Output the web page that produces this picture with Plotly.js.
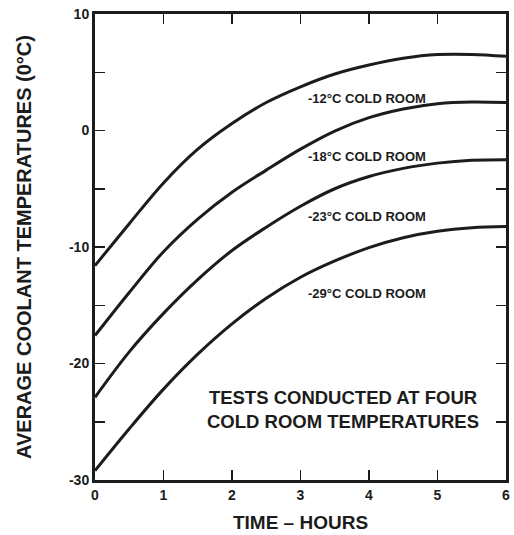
<!DOCTYPE html>
<html>
<head>
<meta charset="utf-8">
<script src="https://cdn.plot.ly/plotly-3.0.1.min.js"></script>
<style>
html,body{margin:0;padding:0;background:#fff;}
#chart{width:514px;height:535px;}
</style>
</head>
<body>
<div id="chart"></div>
<script>
const hours = [0, 0.5, 1, 1.5, 2, 2.5, 3, 3.5, 4, 4.5, 5, 5.5, 6];
const room12 = [-11.6, -8.0, -4.5, -1.6, 0.6, 2.4, 3.75, 4.85, 5.62, 6.2, 6.52, 6.53, 6.37];
const room18 = [-17.6, -13.9, -10.4, -7.6, -5.3, -3.4, -1.6, -0.05, 1.1, 1.85, 2.3, 2.45, 2.4];
const room23 = [-22.9, -19.0, -15.7, -12.8, -10.3, -8.3, -6.5, -5.0, -3.95, -3.25, -2.8, -2.55, -2.5];
const room29 = [-29.2, -25.6, -22.2, -19.2, -16.6, -14.4, -12.6, -11.2, -10.05, -9.2, -8.65, -8.35, -8.25];
const seriesNames = ["-12°C COLD ROOM", "-18°C COLD ROOM", "-23°C COLD ROOM", "-29°C COLD ROOM"];
const xTickVals = [0, 1, 2, 3, 4, 5, 6];
const xTickText = ["0", "1", "2", "3", "4", "5", "6"];
const yTickVals = [-30, -25, -20, -15, -10, -5, 0, 5, 10];
const yTickText = ["-30", "", "-20", "", "-10", "", "0", "", "10"];
const noteLines = ["TESTS CONDUCTED AT FOUR", "COLD ROOM TEMPERATURES"];

const allSeries = [room12, room18, room23, room29];
const ink = "#1c1c1c";
const fam = "Liberation Sans, Arial, sans-serif";

const traces = allSeries.map((ys, i) => ({
  x: hours, y: ys, type: "scatter", mode: "lines",
  name: seriesNames[i],
  line: {color: ink, width: 3, shape: "spline", smoothing: 1.0},
  hoverinfo: "skip"
}));

// label anchor positions (layout, left edge of text)
const labelX = [3.08, 3.08, 3.08, 3.08];
const labelY = [2.75, -2.25, -7.4, -14.0];

const annotations = seriesNames.map((t, i) => ({
  x: labelX[i], y: labelY[i], xref: "x", yref: "y",
  text: "<b>" + t + "</b>", showarrow: false, xanchor: "left", yanchor: "middle",
  font: {family: fam, size: 13, color: ink}
}));
annotations.push({
  x: 3.62, y: -23.95, xref: "x", yref: "y",
  text: "<b>" + noteLines.join("<br>") + "</b>", showarrow: false, xanchor: "center", yanchor: "middle",
  align: "center",
  font: {family: fam, size: 18.5, color: ink}
});

const layout = {
  width: 514, height: 535,
  margin: {l: 95, r: 8, t: 14, b: 55},
  paper_bgcolor: "#fff", plot_bgcolor: "#fff",
  showlegend: false,
  font: {family: fam, color: ink},
  xaxis: {
    range: [0, 6], tickvals: xTickVals, ticktext: xTickText,
    ticks: "inside", ticklen: 10, tickwidth: 1.5, tickcolor: ink,
    showline: true, linewidth: 3, linecolor: ink, mirror: "ticks",
    showgrid: false, zeroline: false, fixedrange: true,
    tickfont: {family: fam, size: 14, color: ink, weight: "bold"},
    title: {text: "<b>TIME – HOURS</b>", font: {family: fam, size: 19, color: ink}, standoff: 14}
  },
  yaxis: {
    range: [-30, 10], tickvals: yTickVals, ticktext: yTickText,
    ticks: "inside", ticklen: 10, tickwidth: 1.5, tickcolor: ink,
    showline: true, linewidth: 3, linecolor: ink, mirror: "ticks",
    showgrid: false, zeroline: false, fixedrange: true,
    tickfont: {family: fam, size: 14, color: ink, weight: "bold"},
    title: {text: "<b>AVERAGE COOLANT TEMPERATURES (0°C)</b>", font: {family: fam, size: 20, color: ink}, standoff: 32}
  },
  annotations: annotations
};

Plotly.newPlot("chart", traces, layout, {displayModeBar: false, staticPlot: true});
</script>
</body>
</html>
